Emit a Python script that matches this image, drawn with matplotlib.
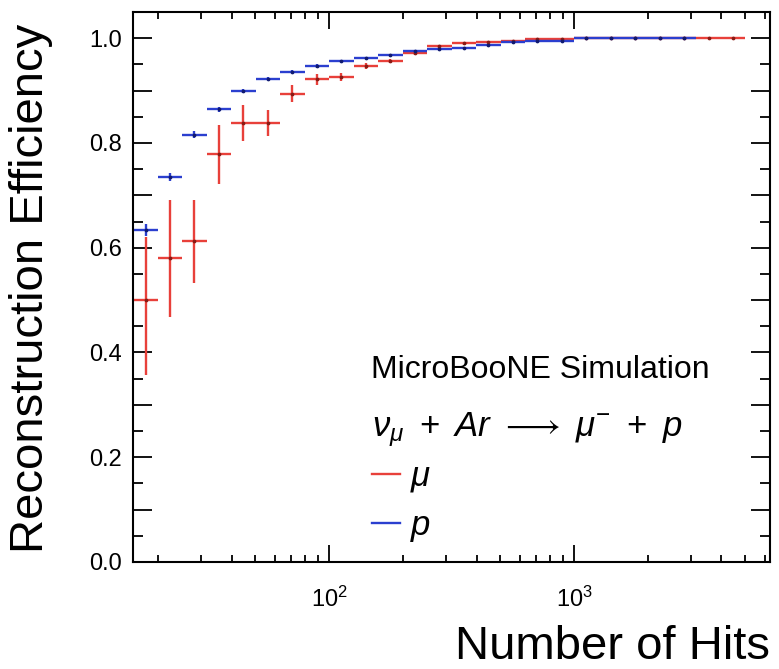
import numpy as np
import matplotlib.pyplot as plt
from matplotlib.ticker import FixedLocator, FuncFormatter, LogLocator

plt.rcParams['font.family'] = ['Liberation Sans', 'DejaVu Sans']
plt.rcParams['mathtext.fontset'] = 'custom'
plt.rcParams['mathtext.rm'] = 'Liberation Sans'
plt.rcParams['mathtext.it'] = 'Liberation Sans:italic'
plt.rcParams['mathtext.bf'] = 'Liberation Sans:bold'

# bin edges in number of hits (10 bins per decade)
bin_edges = [15.8, 20.0, 25.1, 31.6, 39.8, 50.1, 63.1, 79.4, 100, 126, 158, 200,
             251, 316, 398, 501, 631, 794, 1000, 1259, 1585, 1995, 2512, 3162,
             3981, 5012, 6310]

# muon efficiency per bin, with lower / upper errors
mu_eff = [0.501, 0.580, 0.613, 0.778, 0.838, 0.838, 0.894, 0.922, 0.926, 0.947,
          0.956, 0.971, 0.985, 0.990, 0.993, 0.995, 0.998, 0.998, 1.0, 1.0,
          1.0, 1.0, 1.0, 1.0, 1.0]
mu_err_lo = [0.144, 0.112, 0.081, 0.057, 0.035, 0.025, 0.016, 0.011, 0.008, 0.005,
             0.004, 0.003, 0.003, 0.002, 0.002, 0.002, 0.001, 0.001, 0.0, 0.0,
             0.0, 0.0, 0.0, 0.0, 0.0]
mu_err_hi = [0.120, 0.112, 0.079, 0.056, 0.034, 0.025, 0.016, 0.010, 0.008, 0.005,
             0.004, 0.003, 0.003, 0.002, 0.002, 0.002, 0.001, 0.001, 0.0, 0.0,
             0.0, 0.0, 0.0, 0.0, 0.0]

# proton efficiency per bin
p_eff = [0.634, 0.735, 0.816, 0.864, 0.900, 0.923, 0.936, 0.947, 0.957, 0.962,
         0.968, 0.975, 0.980, 0.982, 0.987, 0.992, 0.995, 0.995, 1.0, 1.0,
         1.0, 1.0, 1.0]
p_err = [0.011, 0.008, 0.006, 0.005, 0.004, 0.003, 0.003, 0.003, 0.002, 0.002,
         0.002, 0.002, 0.002, 0.002, 0.001, 0.001, 0.001, 0.001, 0.0, 0.0,
         0.0, 0.0, 0.0]

RED = '#e8403a'
BLUE = '#2b3fcf'


def draw_hist(ax, eff, err_lo, err_hi, color, dark):
    n = len(eff)
    lo = np.array(bin_edges[:n])
    hi = np.array(bin_edges[1:n + 1])
    xc = np.sqrt(lo * hi)
    ax.errorbar(xc, eff, xerr=[xc - lo, hi - xc], yerr=[err_lo, err_hi],
                fmt='o', ms=1.7, mfc=dark, mec=dark, ecolor=color,
                elinewidth=1.7, capsize=0)


fig = plt.figure(figsize=(7.79, 6.69), dpi=100)
ax = fig.add_axes([0.1707, 0.16, 0.8177, 0.822])

draw_hist(ax, mu_eff, mu_err_lo, mu_err_hi, RED, '#8a1a14')
draw_hist(ax, p_eff, p_err, p_err, BLUE, '#101a70')

ax.set_xscale('log')
ax.set_xlim(bin_edges[0], bin_edges[-1])
ax.set_ylim(0, 1.05)

ax.xaxis.set_major_locator(LogLocator(base=10))
ax.xaxis.set_minor_locator(LogLocator(base=10, subs=np.arange(2, 10)))
ax.xaxis.set_minor_formatter(plt.NullFormatter())

ax.yaxis.set_major_locator(FixedLocator(np.arange(0, 1.051, 0.1)))
ax.yaxis.set_minor_locator(FixedLocator(np.arange(0, 1.051, 0.05)))
ax.yaxis.set_major_formatter(FuncFormatter(
    lambda v, pos: f'{v:.1f}' if round(v * 10) % 2 == 0 else ''))

ax.tick_params(which='both', direction='in', top=True, right=True,
               width=1.3, colors='black', labelsize=17)
ax.tick_params(axis='y', which='major', length=14, pad=8)
ax.tick_params(axis='y', which='minor', length=7)
ax.tick_params(axis='x', which='major', length=12, pad=18)
ax.tick_params(axis='x', which='minor', length=5)
for s in ax.spines.values():
    s.set_linewidth(1.5)

ax.set_xlabel('Number of Hits', fontsize=34, loc='right')
ax.xaxis.set_label_coords(1.0, -0.115)
ax.set_ylabel('Reconstruction Efficiency', fontsize=34, loc='top')
ax.yaxis.set_label_coords(-0.125, 0.978)

ax.text(0.373, 0.335, 'MicroBooNE Simulation', transform=ax.transAxes,
        fontsize=23, va='baseline')
ax.text(0.375, 0.228, r'$\nu_{\mu}\ +\ Ar\ \longrightarrow\ \mu^{-}\ +\ p$',
        transform=ax.transAxes, fontsize=25, va='baseline')

h_mu, = ax.plot([], [], color=RED, lw=1.7)
h_p, = ax.plot([], [], color=BLUE, lw=1.7)
ax.legend([h_mu, h_p], [r'$\mu$', r'$p$'], loc='upper left',
          bbox_to_anchor=(0.375, 0.186), frameon=False, fontsize=25,
          handlelength=0.8, handletextpad=0.3, labelspacing=0.42,
          borderpad=0, borderaxespad=0)

fig.savefig('out.png', dpi=100)
